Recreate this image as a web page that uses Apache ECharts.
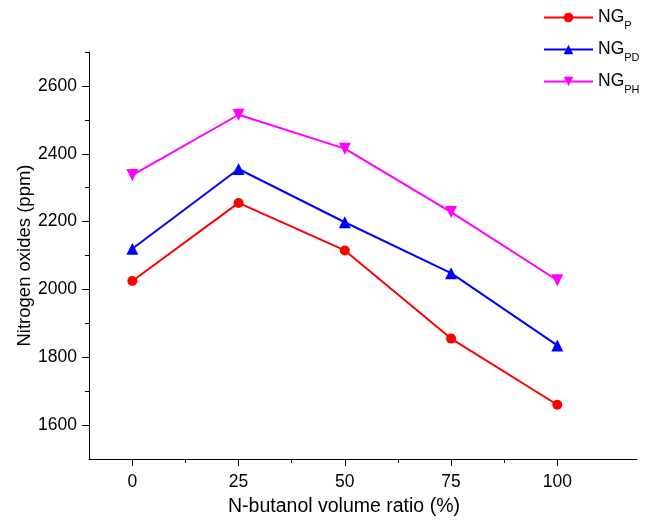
<!DOCTYPE html>
<html>
<head>
<meta charset="utf-8">
<script src="https://cdn.jsdelivr.net/npm/echarts@6/dist/echarts.min.js"></script>
<style>
  html, body { margin: 0; padding: 0; background: #fff; }
  #chart { width: 645px; height: 524px; }
</style>
</head>
<body>
<div id="chart"></div>
<script>
// N-butanol volume ratio (%)
const ratios = [0, 25, 50, 75, 100];
// Nitrogen oxides (ppm) for each blend
const ngP  = [2025, 2255, 2115, 1855, 1660];
const ngPD = [2120, 2355, 2198, 2048, 1835];
const ngPH = [2337, 2515, 2415, 2228, 2027];

const xMajorTicks = [0, 25, 50, 75, 100];
const xMinorTicks = [12.5, 37.5, 62.5, 87.5];
const yMajorTicks = [1600, 1800, 2000, 2200, 2400, 2600];
const yMinorTicks = [1700, 1900, 2100, 2300, 2500, 2700];

const font = 'Liberation Sans, Arial, sans-serif';

function pairs(ys) {
  return ratios.map((x, i) => [x, ys[i]]);
}

const xRange = { min: -10.2, max: 118.75 };
const yRange = { min: 1500, max: 2700 };

// Axis that only draws a set of tick marks (no line, no labels)
function tickAxis(range, pos, values, len) {
  return {
    type: 'value',
    ...range,
    position: pos,
    axisLine: { show: false, onZero: false },
    axisTick: { show: true, length: len, customValues: values, lineStyle: { color: '#000', width: 1 } },
    axisLabel: { show: false },
    splitLine: { show: false }
  };
}

const chart = echarts.init(document.getElementById('chart'));

chart.setOption({
  animation: false,
  backgroundColor: '#fff',
  grid: { left: 89, right: 8, top: 52, bottom: 65 },
  legend: {
    orient: 'vertical',
    left: 543,
    top: 4,
    padding: 0,
    itemWidth: 49,
    itemHeight: 12,
    itemGap: 5,
    data: ['P', 'PD', 'PH'],
    formatter: name => '{m|NG}{s|' + name + '}',
    textStyle: {
      fontFamily: font,
      color: '#000',
      rich: {
        m: { fontFamily: font, fontSize: 17.5, lineHeight: 20, color: '#000' },
        s: { fontFamily: font, fontSize: 11, lineHeight: 12, padding: [16, 0, 0, 0], color: '#000' }
      }
    }
  },
  xAxis: [
    {
      type: 'value',
      ...xRange,
      name: 'N-butanol volume ratio (%)',
      nameLocation: 'middle',
      nameGap: 38,
      nameMoveOverlap: false,
      nameTextStyle: { fontFamily: font, fontSize: 19.5, color: '#000', padding: [0, 38, 0, 0] },
      axisLine: { show: true, onZero: false, lineStyle: { color: '#000', width: 1 } },
      axisTick: { show: false },
      axisLabel: { customValues: xMajorTicks, fontFamily: font, fontSize: 17.5, color: '#000', margin: 14 },
      splitLine: { show: false }
    },
    tickAxis(xRange, 'bottom', xMajorTicks, 7),
    tickAxis(xRange, 'bottom', xMinorTicks, 4)
  ],
  yAxis: [
    {
      type: 'value',
      ...yRange,
      name: 'Nitrogen oxides (ppm)',
      nameLocation: 'middle',
      nameGap: 55,
      nameMoveOverlap: false,
      nameTextStyle: { fontFamily: font, fontSize: 18.5, color: '#000' },
      axisLine: { show: true, onZero: false, lineStyle: { color: '#000', width: 1 } },
      axisTick: { show: false },
      axisLabel: {
        customValues: yMajorTicks,
        formatter: v => String(v),
        fontFamily: font, fontSize: 17.5, color: '#000', margin: 12
      },
      splitLine: { show: false }
    },
    tickAxis(yRange, 'left', yMajorTicks, 7),
    tickAxis(yRange, 'left', yMinorTicks, 4)
  ],
  series: [
    {
      name: 'P', type: 'line', data: pairs(ngP),
      symbol: 'circle', symbolSize: 10,
      color: '#ff0000',
      lineStyle: { color: '#ff0000', width: 2 },
      itemStyle: { color: '#ff0000' }
    },
    {
      name: 'PD', type: 'line', data: pairs(ngPD),
      symbol: 'triangle', symbolSize: 12,
      color: '#0000ff',
      lineStyle: { color: '#0000ff', width: 2 },
      itemStyle: { color: '#0000ff' }
    },
    {
      name: 'PH', type: 'line', data: pairs(ngPH),
      symbol: 'triangle', symbolSize: 12, symbolRotate: 180,
      color: '#ff00ff',
      lineStyle: { color: '#ff00ff', width: 2 },
      itemStyle: { color: '#ff00ff' }
    }
  ]
});
</script>
</body>
</html>
